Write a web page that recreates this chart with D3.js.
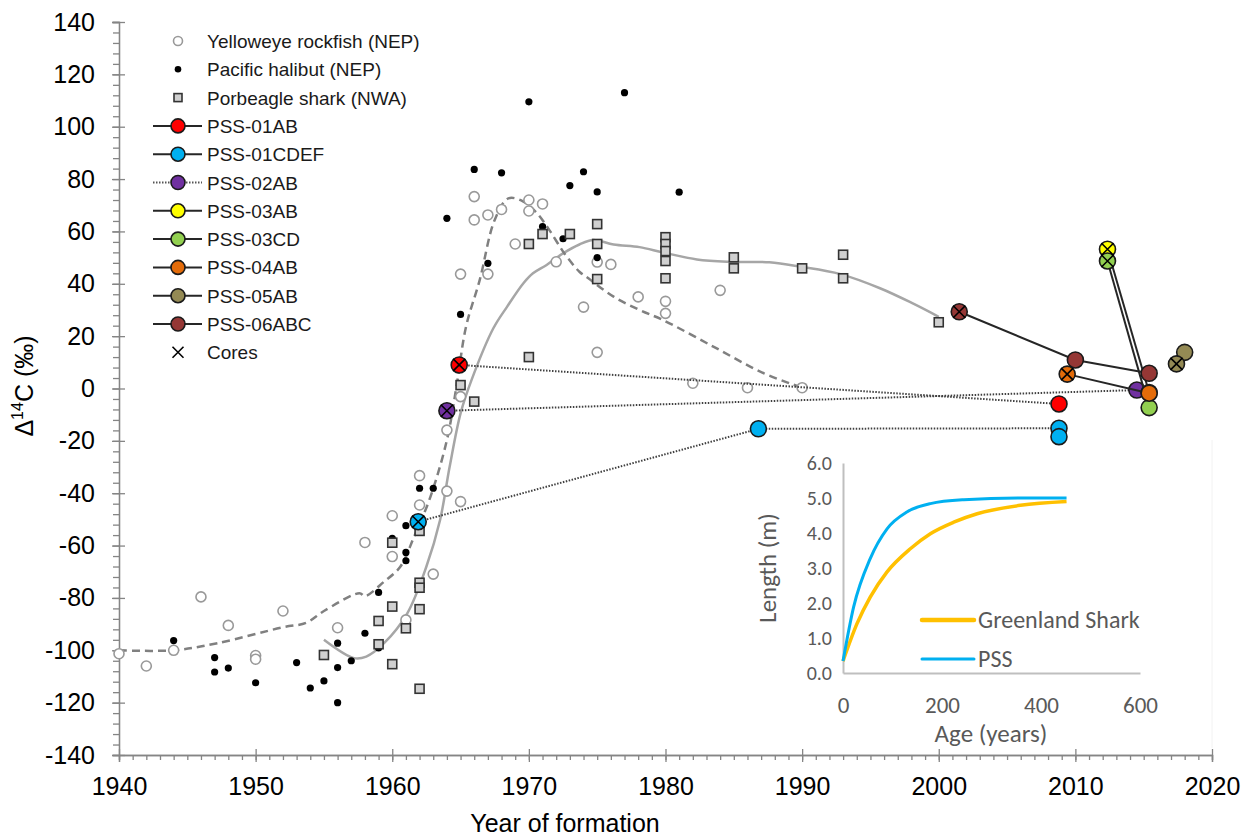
<!DOCTYPE html>
<html>
<head>
<meta charset="utf-8">
<script src="https://cdn.jsdelivr.net/npm/d3@7"></script>
<style>
  body { margin: 0; background: #fff; }
  svg { display: block; font-family: "Liberation Sans", Arial, sans-serif; }
</style>
</head>
<body>
<svg id="chart" width="1252" height="838"></svg>
<script>
'use strict';

// reference data: [year of formation, D14C]
const yelloweye = [
  [1940, -101.3], [1942, -106], [1944, -100], [1946, -79.6], [1948, -90.5], [1950, -102], [1950, -103.4],
  [1952, -85], [1956, -91.4], [1958, -58.8], [1960, -48.6], [1960, -64.2], [1961, -88.4], [1962, -33.3],
  [1962, -44.5], [1963, -70.9], [1964, -39.2], [1964, -15.9], [1965, -3.1], [1965, -43.2], [1965, 43.7],
  [1966, 73.3], [1966, 64.4], [1967, 66.3], [1967, 43.7], [1968, 68.4], [1969, 55.2], [1970, 72],
  [1970, 67.8], [1971, 70.5], [1972, 48.4], [1974, 31.1], [1975, 48.3], [1975, 13.8], [1976, 47.4],
  [1978, 35], [1980, 33.3], [1980, 28.7], [1982, 2], [1984, 37.5], [1986, 0.3], [1990, 0.3]
];

const halibut = [
  [1944, -96.3], [1947, -102.8], [1947, -108.3], [1948, -106.8], [1950, -112.4], [1953, -104.7],
  [1954, -114.4], [1955, -111.7], [1956, -97.3], [1956, -106.6], [1956, -120], [1957, -104], [1958, -93.5],
  [1959, -77.9], [1959, -99.1], [1960, -57.2], [1961, -52.4], [1961, -62.6], [1961, -65.8], [1962, -38.1],
  [1963, -38.1], [1964, 65], [1965, 28.3], [1966, 83.7], [1967, 47.8], [1968, 82.4], [1970, 109.5],
  [1971, 61.8], [1972.5, 57.2], [1973, 77.5], [1974, 82.8], [1975, 75.1], [1975, 50], [1977, 113], [1981, 75]
];

const porbeagle = [
  [1955, -101.8], [1959, -88.8], [1959, -97.7], [1960, -58.9], [1960, -83.3], [1960, -105.3], [1961, -91.6],
  [1962, -54.4], [1962, -74.2], [1962, -76.1], [1962, -84.3], [1962, -114.7], [1965, 1.3], [1966, -5],
  [1970, 12], [1970, 55.2], [1971, 59], [1973, 59], [1975, 62.8], [1975, 55.2], [1975, 41.8],
  [1980, 57.8], [1980, 55.2], [1980, 52.5], [1980, 48.7], [1980, 42.1], [1985, 50.1], [1985, 45.9],
  [1990, 45.9], [1993, 51.1], [1993, 42.1], [2000, 25.3]
];

// smoothed reference curves
const yelloweyeCurve = [
  [1940, -100], [1944, -100], [1947.2, -97.3], [1952, -91.2], [1953.7, -89.5], [1955, -85], [1957.6, -78.2],
  [1958, -79.3], [1959.4, -73.8], [1960.6, -68], [1961.6, -56.6], [1962.8, -41.3], [1964, -19.7],
  [1964.7, 0.7], [1965.4, 23.6], [1966.4, 41.4], [1967.5, 64.4], [1968.5, 72.6], [1969.6, 71.4],
  [1970.6, 66.9], [1971.5, 60.5], [1972.6, 51.6], [1973.7, 44.6], [1974.2, 42.7], [1976.2, 35.1],
  [1978.1, 30], [1979.8, 26.2], [1983.5, 16], [1987.2, 5.8], [1990, 0.3]
];

const porbeagleCurve = [
  [1955, -96], [1957.2, -103], [1958.1, -102.4], [1959.4, -97.3], [1961.1, -85.9], [1962.5, -68],
  [1963.5, -50.2], [1964.2, -29.9], [1965, -9.5], [1965.8, 3.2], [1967.4, 23], [1968.4, 31.2],
  [1969.6, 40.2], [1970.3, 44], [1971.3, 47.2], [1972.5, 51.6], [1973.7, 55], [1974.7, 56.7],
  [1976.2, 55], [1978.1, 54], [1979.8, 52], [1982.3, 49.3], [1984.7, 48.4], [1987.6, 48.2],
  [1989.9, 46.5], [1992.8, 43.7], [1995.7, 38.3], [1998.1, 32.5], [2000, 27.4]
];

// PSS samples: [year, D14C, isCore]
const pssNames = ['PSS-01AB', 'PSS-01CDEF', 'PSS-02AB', 'PSS-03AB', 'PSS-03CD', 'PSS-04AB', 'PSS-05AB', 'PSS-06ABC'];
const pssColors = ['#ff0000', '#00b0f0', '#7030a0', '#ffff00', '#92d050', '#e46c0a', '#948a54', '#953735'];
const pssDotted = [true, true, true, false, false, false, false, false];
const pssLegendDotted = [false, false, true, false, false, false, false, false];
const pssPoints = [
  [[1964.9, 9, true], [2008.8, -5.9, false]],
  [[1961.9, -50.9, true], [1986.8, -15.4, false], [2008.8, -15.2, false], [2008.8, -18.4, false]],
  [[1964, -8.5, true], [2014.5, -0.6, false]],
  [[2012.35, 53.2, true], [2015.4, -1.5, false]],
  [[2012.35, 48.7, true], [2015.4, -7.3, false]],
  [[2009.4, 5.5, true], [2015.4, -1.8, false]],
  [[2018, 13.8, false], [2017.4, 9.4, true]],
  [[2001.5, 29.3, true], [2010, 10.9, false], [2015.4, 5.8, false]]
];

// inset growth curves: [age, length m]
const pssGrowth = [[0, 0.34], [21.5, 1.89], [55, 3.27], [89, 4.12], [129, 4.6], [176.5, 4.84], [244, 4.95], [358.5, 5.0], [451.6, 5.0]];
const greenlandGrowth = [[0, 0.34], [28.3, 1.41], [55, 2.17], [89, 2.89], [136, 3.55], [176.5, 3.98], [223.7, 4.31], [271, 4.55], [358.5, 4.79], [451.6, 4.9]];

const svg = d3.select('#chart');
const axisColor = '#858585';
const insetFont = 'Carlito, Calibri, Lato, "Open Sans", sans-serif';

const x = d3.scaleLinear().domain([1940, 2020]).range([119, 1212]);
const y = d3.scaleLinear().domain([-140, 140]).range([755, 22]);

// ---- main axes ----
const xMinor = svg.append('g').attr('transform', `translate(0,${y(-140)})`)
  .call(d3.axisBottom(x).tickValues(d3.range(1940, 2021, 1)).tickSize(5).tickFormat(''));
const xMajor = svg.append('g').attr('transform', `translate(0,${y(-140)})`)
  .call(d3.axisBottom(x).tickValues(d3.range(1940, 2021, 10)).tickSize(7).tickPadding(15).tickFormat(d => String(d)));
xMajor.selectAll('.tick line').attr('y1', -6);

const yMinor = svg.append('g').attr('transform', `translate(${x(1940)},0)`)
  .call(d3.axisLeft(y).tickValues(d3.range(-140, 141, 4)).tickSize(6).tickFormat(''));
const yMajor = svg.append('g').attr('transform', `translate(${x(1940)},0)`)
  .call(d3.axisLeft(y).tickValues(d3.range(-140, 141, 20)).tickSize(7).tickPadding(17).tickFormat(d => String(d)));
yMajor.selectAll('.tick line').attr('x1', 6);

[xMinor, xMajor, yMinor, yMajor].forEach(g => {
  g.selectAll('path').attr('stroke', axisColor).attr('stroke-width', 1.3);
  g.selectAll('line').attr('stroke', axisColor).attr('stroke-width', 1.3);
  g.selectAll('text').attr('fill', '#000').style('font-size', '25px').style('font-family', '"Liberation Sans", Arial, sans-serif');
});

svg.append('text').attr('x', 565).attr('y', 832).attr('text-anchor', 'middle')
  .style('font-size', '25px').text('Year of formation');

const yTitle = svg.append('text').attr('transform', `translate(33,386) rotate(-90)`)
  .attr('text-anchor', 'middle').style('font-size', '25px');
yTitle.append('tspan').text('Δ');
yTitle.append('tspan').attr('dy', -10).style('font-size', '16px').text('14');
yTitle.append('tspan').attr('dy', 10).text('C (‰)');

// ---- inset ----
const ix = d3.scaleLinear().domain([0, 600]).range([843, 1140]);
const iy = d3.scaleLinear().domain([0, 6]).range([673, 463]);
const insetGrey = '#595959';

svg.append('line').attr('x1', 1212).attr('x2', 1212).attr('y1', 440).attr('y2', 748)
  .attr('stroke', '#f2f2f2');

const ixAxis = svg.append('g').attr('transform', `translate(0,${iy(0)})`)
  .call(d3.axisBottom(ix).tickValues([0, 200, 400, 600]).tickSize(0).tickPadding(24));
const iyAxis = svg.append('g').attr('transform', `translate(${ix(0)},0)`)
  .call(d3.axisLeft(iy).tickValues(d3.range(0, 6.01, 1)).tickSize(0).tickPadding(11).tickFormat(d3.format('.1f')));
[ixAxis, iyAxis].forEach(g => {
  g.selectAll('path').attr('stroke', '#bfbfbf').attr('stroke-width', 2);
  g.selectAll('text').attr('fill', insetGrey).style('font-family', insetFont);
});
ixAxis.selectAll('text').style('font-size', '23px');
iyAxis.selectAll('text').style('font-size', '20px');

svg.append('text').attr('x', 991).attr('y', 742).attr('text-anchor', 'middle')
  .attr('fill', insetGrey).style('font-family', insetFont)
  .style('font-size', '25px').text('Age (years)');
svg.append('text').attr('transform', `translate(776,${iy(3)}) rotate(-90)`).attr('text-anchor', 'middle')
  .attr('fill', insetGrey).style('font-family', insetFont)
  .style('font-size', '25px').text('Length (m)');

const growthLine = d3.line().x(d => ix(d[0])).y(d => iy(d[1])).curve(d3.curveMonotoneX);
svg.append('path').attr('d', growthLine(greenlandGrowth)).attr('fill', 'none')
  .attr('stroke', '#ffc000').attr('stroke-width', 3.5);
svg.append('path').attr('d', growthLine(pssGrowth)).attr('fill', 'none')
  .attr('stroke', '#00b0f0').attr('stroke-width', 3);

const insetLegend = [['Greenland Shark', '#ffc000', 620, 4.5], ['PSS', '#00b0f0', 659, 3]];
insetLegend.forEach(([label, color, ly, w]) => {
  svg.append('line').attr('x1', 922).attr('x2', 974).attr('y1', ly).attr('y2', ly)
    .attr('stroke', color).attr('stroke-width', w).attr('stroke-linecap', 'round');
  svg.append('text').attr('x', 978).attr('y', ly + 8).attr('fill', insetGrey)
    .style('font-family', insetFont).style('font-size', '24px').text(label);
});

// ---- reference curves ----
const refLine = d3.line().x(d => x(d[0])).y(d => y(d[1])).curve(d3.curveCatmullRom);
svg.append('path').attr('d', refLine(porbeagleCurve)).attr('fill', 'none')
  .attr('stroke', '#a6a6a6').attr('stroke-width', 2.5);
svg.append('path').attr('d', refLine(yelloweyeCurve)).attr('fill', 'none')
  .attr('stroke', '#808080').attr('stroke-width', 2.5).attr('stroke-dasharray', '8,5');

// ---- reference samples ----
function drawOpenCircle(g, cx, cy, r) {
  g.append('circle').attr('cx', cx).attr('cy', cy).attr('r', r)
    .attr('fill', '#fff').attr('stroke', '#999').attr('stroke-width', 1.6);
}
function drawDot(g, cx, cy, r) {
  g.append('circle').attr('cx', cx).attr('cy', cy).attr('r', r).attr('fill', '#000');
}
function drawSquare(g, cx, cy, s) {
  g.append('rect').attr('x', cx - s / 2).attr('y', cy - s / 2).attr('width', s).attr('height', s)
    .attr('fill', '#d0d0d0').attr('stroke', '#333').attr('stroke-width', 1.6);
}
function drawCross(g, cx, cy, h) {
  g.append('path').attr('d', `M${cx - h},${cy - h}L${cx + h},${cy + h}M${cx - h},${cy + h}L${cx + h},${cy - h}`)
    .attr('stroke', '#000').attr('stroke-width', 1.6).attr('fill', 'none');
}

const pts = svg.append('g');
yelloweye.forEach(d => drawOpenCircle(pts, x(d[0]), y(d[1]), 5));
halibut.forEach(d => drawDot(pts, x(d[0]), y(d[1]), 3.6));
porbeagle.forEach(d => drawSquare(pts, x(d[0]), y(d[1]), 9));

// ---- PSS series ----
const pssLine = d3.line().x(d => x(d[0])).y(d => y(d[1]));
pssPoints.forEach((series, i) => {
  const g = svg.append('g');
  g.append('path').attr('d', pssLine(series)).attr('fill', 'none')
    .attr('stroke', pssDotted[i] ? '#404040' : '#262626')
    .attr('stroke-width', 2)
    .attr('stroke-dasharray', pssDotted[i] ? '1.5,1.5' : null);
  series.forEach(d => {
    g.append('circle').attr('cx', x(d[0])).attr('cy', y(d[1])).attr('r', 8)
      .attr('fill', pssColors[i]).attr('stroke', '#1a1a1a').attr('stroke-width', 1.6);
  });
});
const cores = svg.append('g');
pssPoints.forEach(series => series.filter(d => d[2]).forEach(d => drawCross(cores, x(d[0]), y(d[1]), 6)));

// ---- legend ----
const legend = svg.append('g');
const legendNames = ['Yelloweye rockfish (NEP)', 'Pacific halibut (NEP)', 'Porbeagle shark (NWA)'].concat(pssNames, ['Cores']);
const rowY = i => 41 + i * 28.3;
const symX = 178;
legendNames.forEach((name, i) => {
  const ly = rowY(i);
  if (i === 0) drawOpenCircle(legend, symX, ly, 4.5);
  else if (i === 1) drawDot(legend, symX, ly, 3.3);
  else if (i === 2) drawSquare(legend, symX, ly, 8);
  else if (i === legendNames.length - 1) drawCross(legend, symX, ly, 5.5);
  else {
    const k = i - 3;
    legend.append('line').attr('x1', 153).attr('x2', 202).attr('y1', ly).attr('y2', ly)
      .attr('stroke', pssLegendDotted[k] ? '#555' : '#262626').attr('stroke-width', 2)
      .attr('stroke-dasharray', pssLegendDotted[k] ? '1.5,1.5' : null);
    legend.append('circle').attr('cx', symX).attr('cy', ly).attr('r', 7)
      .attr('fill', pssColors[k]).attr('stroke', '#1a1a1a').attr('stroke-width', 1.6);
  }
  legend.append('text').attr('x', 207).attr('y', ly + 7).style('font-size', '19px')
    .attr('fill', '#1a1a1a').text(name);
});
</script>
</body>
</html>
